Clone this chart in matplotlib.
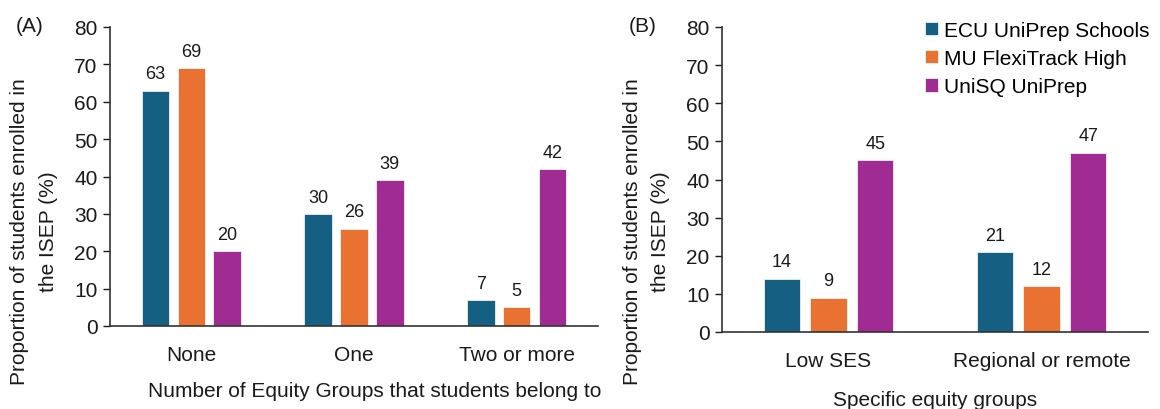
import matplotlib
matplotlib.use('agg')
import matplotlib.pyplot as plt
import numpy as np

plt.rcParams['font.family'] = ['Liberation Sans', 'DejaVu Sans']

programs = ['ECU UniPrep Schools', 'MU FlexiTrack High', 'UniSQ UniPrep']
colors = ['#156082', '#E97132', '#A02B93']

groups_a = ['None', 'One', 'Two or more']
ecu_a = [63, 30, 7]
mu_a = [69, 26, 5]
unisq_a = [20, 39, 42]

groups_b = ['Low SES', 'Regional or remote']
ecu_b = [14, 21]
mu_b = [9, 12]
unisq_b = [45, 47]

ylab = 'Proportion of students enrolled in\nthe ISEP (%)'
txt = '#1a1a1a'

fig = plt.figure(figsize=(11.6, 4.1), dpi=100)
ax_a = fig.add_axes([110/1160, 1-327/410, 488/1160, 299/410])
ax_b = fig.add_axes([722/1160, 1-333/410, 426/1160, 305/410])


def draw(ax, cats, series):
    x = np.arange(len(cats))
    width = 0.17
    offset = 0.22
    handles = []
    for i, (vals, c) in enumerate(zip(series, colors)):
        bars = ax.bar(x + (i - 1) * offset, vals, width, color=c,
                      edgecolor='white', linewidth=0.5)
        handles.append(bars)
        for b, v in zip(bars, vals):
            ax.annotate(str(v), (b.get_x() + b.get_width() / 2, v),
                        xytext=(0, 6), textcoords='offset points',
                        ha='center', va='bottom', fontsize=13, color=txt)
    ax.set_xlim(-0.5, len(cats) - 0.5)
    ax.set_ylim(0, 80)
    ax.set_yticks(range(0, 81, 10))
    ax.set_xticks(x)
    ax.set_xticklabels(cats)
    ax.tick_params(axis='x', length=0, pad=14, labelsize=15, colors=txt)
    ax.tick_params(axis='y', length=5, width=1, direction='out', pad=4,
                   labelsize=15, colors=txt)
    for s in ['top', 'right']:
        ax.spines[s].set_visible(False)
    for s in ['left', 'bottom']:
        ax.spines[s].set_linewidth(1.2)
        ax.spines[s].set_color('#333333')
    return handles


draw(ax_a, groups_a, [ecu_a, mu_a, unisq_a])
handles = draw(ax_b, groups_b, [ecu_b, mu_b, unisq_b])

fig.text(34/1160, 1-232/410, ylab, rotation=90, ha='center', va='center',
         fontsize=15, color=txt, multialignment='center', linespacing=1.6)
fig.text(647/1160, 1-232/410, ylab, rotation=90, ha='center', va='center',
         fontsize=15, color=txt, multialignment='center', linespacing=1.6)

fig.text(375/1160, 1-392/410, 'Number of Equity Groups that students belong to',
         ha='center', va='center', fontsize=15, color=txt)
fig.text(935/1160, 1-401/410, 'Specific equity groups',
         ha='center', va='center', fontsize=15, color=txt)

fig.text(30/1160, 1-27/410, '(A)', ha='center', va='center', fontsize=15, color=txt)
fig.text(643/1160, 1-27/410, '(B)', ha='center', va='center', fontsize=15, color=txt)

fig.legend(handles, programs, loc='upper left', bbox_to_anchor=(925/1160, 1-22/410),
           frameon=False, fontsize=15, handlelength=0.6, handleheight=0.6,
           handletextpad=0.3, labelspacing=0.44, borderpad=0, borderaxespad=0)

fig.savefig('out.png', dpi=100)
